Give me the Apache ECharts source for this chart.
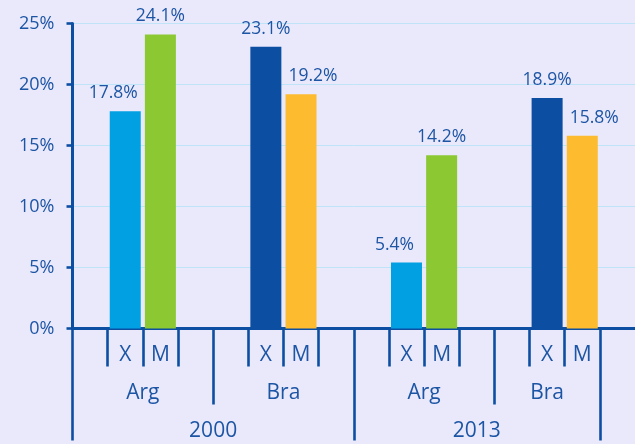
<!DOCTYPE html>
<html>
<head>
<meta charset="utf-8">
<script src="https://cdn.jsdelivr.net/npm/echarts@6/dist/echarts.min.js"></script>
<style>
  html, body { margin: 0; padding: 0; background: #e9e9fb; }
  #chart { width: 635px; height: 444px; }
</style>
</head>
<body>
<div id="chart"></div>
<script>
const years = ["2000", "2013"];
const countries = ["Arg", "Bra"];
const flows = ["X", "M"];
// order: 2000 Arg, 2000 Bra, 2013 Arg, 2013 Bra
const exportShare = [17.8, 23.1, 5.4, 18.9];
const importShare = [24.1, 19.2, 14.2, 15.8];
const yTicks = [0, 5, 10, 15, 20, 25];

const ink = "#1d55a5";
const axisBlue = "#0c4ea2";
const barColors = {
  Arg: ["#00a0e3", "#8bc832"],
  Bra: ["#0b4ea2", "#fdbb30"],
};
// nudge labels apart where neighbours would touch
const labelShift = { Arg: [-12, 0], Bra: [0, 12] };
const font = "Open Sans";

// 4 slots per country group: gap, X, M, gap
const slotLabels = [];
const barData = [];
years.forEach((yr, yi) => {
  countries.forEach((c, ci) => {
    const g = yi * countries.length + ci;
    const vals = [exportShare[g], importShare[g]];
    slotLabels.push("");
    barData.push(null);
    flows.forEach((f, fi) => {
      slotLabels.push(f);
      barData.push({
        value: vals[fi],
        itemStyle: { color: barColors[c][fi] },
        label: { offset: [labelShift[c][fi], 0] },
      });
    });
    slotLabels.push("");
    barData.push(null);
  });
});

const nSlots = slotLabels.length;
// the last group is cut after its M bar
const lastEdge = nSlots - 1;
const countryCenters = [2, 6, 10, (12 + lastEdge) / 2];
const yearCenters = [4, (8 + lastEdge) / 2];
// small ticks around each X and M label
const leafTicks = [];
for (let i = 1; i < lastEdge; i++) if (i % 4 !== 0) leafTicks.push(i);

const tickStyle = { color: axisBlue, width: 2.6 };

const labelAxis = (tickLen, ticks, margin, centers, fmt) => ({
  type: "value",
  min: 0,
  max: nSlots,
  position: "bottom",
  axisLine: { show: false },
  splitLine: { show: false },
  axisTick: {
    show: true,
    length: tickLen,
    lineStyle: tickStyle,
    customValues: ticks,
  },
  axisLabel: {
    show: !!centers,
    margin: margin,
    color: ink,
    fontFamily: font,
    fontSize: 21,
    customValues: centers || [],
    formatter: fmt,
  },
});

const chart = echarts.init(document.getElementById("chart"));
const option = {
  backgroundColor: "#e9e9fb",
  animation: false,
  grid: { left: 72.5, right: -2.3, top: 23.5, bottom: 115.5 },
  xAxis: [
    {
      type: "category",
      data: slotLabels,
      axisLine: { lineStyle: { color: axisBlue, width: 3 } },
      axisTick: { show: false },
      axisLabel: {
        interval: 0,
        margin: 16,
        color: ink,
        fontFamily: font,
        fontSize: 21,
      },
    },
    labelAxis(38, leafTicks, 0, null, () => ""),
    labelAxis(76, [4, 12], 54, countryCenters,
      (v) => countries[Math.floor(v / 4) % 2]),
    labelAxis(112, [0, 8, lastEdge], 92, yearCenters,
      (v) => years[Math.floor(v / 8)]),
  ],
  yAxis: {
    type: "value",
    min: yTicks[0],
    max: yTicks[yTicks.length - 1],
    interval: 5,
    axisLine: { show: true, lineStyle: { color: axisBlue, width: 3 } },
    axisTick: { show: true, length: 6, lineStyle: tickStyle },
    splitLine: { lineStyle: { color: "#bfe4f7", width: 1 } },
    axisLabel: {
      margin: 18,
      color: ink,
      fontFamily: font,
      fontSize: 18,
      formatter: "{value}%",
    },
  },
  series: [
    {
      type: "bar",
      xAxisIndex: 0,
      data: barData,
      barWidth: 31,
      label: {
        show: true,
        position: "top",
        distance: 9,
        color: ink,
        fontFamily: font,
        fontSize: 17.5,
        formatter: "{c}%",
      },
    },
  ],
};
chart.setOption(option);
</script>
</body>
</html>
